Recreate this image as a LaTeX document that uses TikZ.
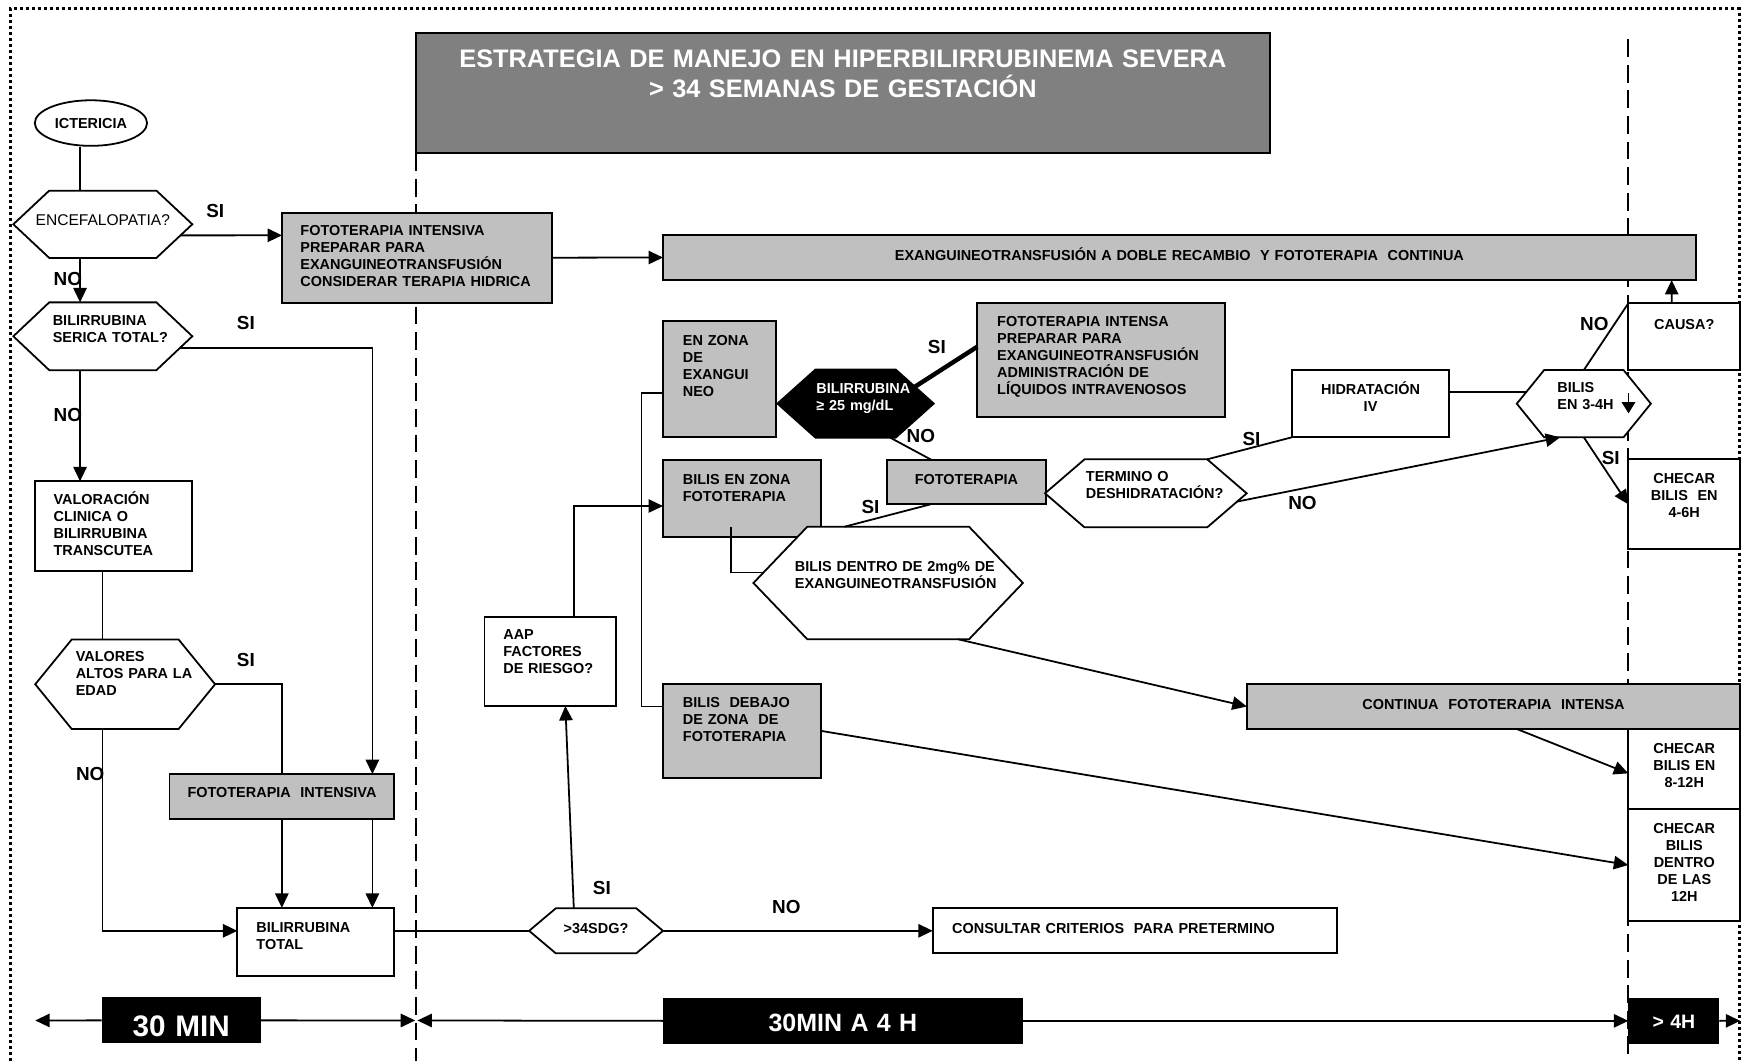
\documentclass[tikz,border=0pt]{standalone}
\usepackage{fontspec}
\setmainfont{Liberation Sans}
\usetikzlibrary{arrows.meta,calc,shapes.geometric,shapes.symbols}
\definecolor{boxgray}{RGB}{192,192,192}
\definecolor{titlegray}{RGB}{128,128,128}
\hyphenpenalty=10000
\exhyphenpenalty=10000
\begin{document}
\begin{tikzpicture}[x=1pt,y=-1pt,>={Triangle[length=13pt,width=12pt]},line width=1.6pt,
box/.style={draw,fill=white,anchor=north west,inner ysep=0pt,outer sep=0pt,align=left,font=\bfseries\fontsize{13}{15.3}\selectfont},
gbox/.style={box,fill=boxgray},
cbox/.style={box,align=center,inner xsep=0pt},
hexa/.style={draw,fill=white,shape=signal,signal to=west and east,inner sep=0pt,outer sep=0pt,align=left,font=\bfseries\fontsize{13}{15.3}\selectfont},
lbl/.style={inner sep=0pt,font=\bfseries\fontsize{17}{17}\selectfont},
tbar/.style={fill=black,text=white,anchor=north west,inner sep=0pt,outer sep=0pt,align=center},
divider/.style={dash pattern=on 16pt off 7pt,line width=1.8pt}]
\useasboundingbox (0,0) rectangle (1568,954);
\draw[line width=2.7pt,dash pattern=on 2.7pt off 2.7pt] (9,960)--(9,8)--(1564.7,8)--(1564.7,960);
\draw[divider] (374.3,137.9)--(374.3,960);
\draw[divider] (1464.8,35.4)--(1464.8,960);
\coordinate (spineA) at (72,0);
\coordinate (spineB) at (92.3,0);
\coordinate (colB) at (335,0);
\coordinate (t0) at (31.7,918);
\coordinate (t1) at (373.5,918);
\coordinate (t2) at (375.5,918);
\coordinate (t3) at (1565.5,918.3);

\node[box,fill=titlegray,text=white,align=center,inner xsep=0pt,text width=767.9pt,text height=30.7pt,text depth=77.2pt,font=\bfseries\fontsize{22.8}{27}\selectfont] (title) at (374.3,30) {ESTRATEGIA DE MANEJO EN HIPERBILIRRUBINEMA SEVERA\\> 34 SEMANAS DE GESTACIÓN};

\node[draw,ellipse,minimum width=101pt,minimum height=41pt,inner sep=0pt,font=\bfseries\fontsize{13}{15.3}\selectfont] (icter) at (81.8,110.7) {ICTERICIA};
\node[hexa,minimum width=161pt,minimum height=60.5pt,signal pointer angle=86.3,align=center,inner xsep=-14pt,font=\fontsize{14}{16}\selectfont,text height=10pt,text depth=7.5pt] (encef) at (92.5,201.75) {ENCEFALOPATIA?};
\node[hexa,minimum width=161pt,minimum height=61pt,signal pointer angle=86.7,text width=90pt,text height=12pt,text depth=31.2pt] (serica) at (92.5,302.5) {BILIRRUBINA\\SERICA~TOTAL?};
\node[box,inner xsep=16.5pt,text width=108.3pt,text height=21.05pt,text depth=59.95pt] (valoracion) at (31.7,433) {VALORACIÓN\\CLINICA O\\BILIRRUBINA\\TRANSCUTEA};
\node[hexa,minimum width=161.8pt,minimum height=80.5pt,signal pointer angle=101.6,text width=88.8pt,text height=12pt,text depth=52.2pt] (valores) at (112.6,615.55) {VALORES\\ALTOS~PARA~LA\\EDAD};
\node[gbox,inner xsep=16.2pt,text width=169.7pt,text height=20.75pt,text depth=19.45pt] (fotoInt2) at (152.5,696.4) {FOTOTERAPIA~~INTENSIVA};
\node[box,inner xsep=17.2pt,text width=106.7pt,text height=21.75pt,text depth=39.45pt] (bTotal) at (213.5,816.7) {BILIRRUBINA\\TOTAL};
\node[gbox,inner xsep=16.6pt,text width=209.6pt,text height=20.85pt,text depth=60.15pt] (fotoInt1) at (253.7,191.3) {FOTOTERAPIA INTENSIVA\\PREPARAR PARA\\EXANGUINEOTRANSFUSIÓN\\CONSIDERAR~TERAPIA~HIDRICA};

\node[box,inner xsep=17pt,text width=84.2pt,text height=20.45pt,text depth=59.85pt] (aap) at (435.8,554.8) {AAP\\FACTORES\\DE~RIESGO?};
\node[hexa,minimum width=120.4pt,minimum height=40.5pt,signal pointer angle=80.3,align=center,text height=10pt,text depth=5.5pt] (sdg) at (536.2,837.35) {>34SDG?};
\node[box,inner xsep=17.5pt,text width=328.5pt,text height=22.65pt,text depth=17.85pt] (consultar) at (839.1,817.1) {CONSULTAR CRITERIOS~~PARA PRETERMINO};
\node[gbox,align=center,inner xsep=0pt,text width=929.2pt,text height=22.65pt,text depth=17.85pt] (exan) at (596.4,211.4) {EXANGUINEOTRANSFUSIÓN A DOBLE RECAMBIO~~Y FOTOTERAPIA~~CONTINUA};
\node[gbox,inner xsep=17.9pt,text width=66.1pt,text height=21.75pt,text depth=82.85pt] (enZona) at (596.4,288.8) {EN ZONA\\DE\\EXANGUI\\NEO};
\node[gbox,inner xsep=17.9pt,text width=106.4pt,text height=22.05pt,text depth=47.55pt] (bZona) at (596.4,413.8) {BILIS EN ZONA\\FOTOTERAPIA};
\node[gbox,inner xsep=18pt,text width=106pt,text height=21.45pt,text depth=62.85pt] (bDebajo) at (596.4,615.3) {BILIS~~DEBAJO\\DE~ZONA~~DE\\FOTOTERAPIA};
\node[hexa,fill=black,text=white,minimum width=140.6pt,minimum height=61.4pt,signal pointer angle=83.7,text width=70.6pt,text height=12pt,text depth=30.7pt] (bili25) at (769.7,363.05) {BILIRRUBINA\\≥~25~mg/dL};
\node[gbox,inner xsep=17.9pt,text width=186.9pt,text height=21.75pt,text depth=81.35pt] (fotoIntensa) at (879.2,272.3) {FOTOTERAPIA INTENSA\\PREPARAR PARA\\EXANGUINEOTRANSFUSIÓN\\ADMINISTRACIÓN DE\\LÍQUIDOS~INTRAVENOSOS};
\node[gbox,align=center,inner xsep=0pt,text width=142.5pt,text height=22.05pt,text depth=17.55pt] (foto) at (798.2,413.8) {FOTOTERAPIA};
\node[hexa,minimum width=242.4pt,minimum height=101.3pt,signal pointer angle=92.5,inner xsep=-11.5pt,text width=167.8pt,text height=12pt,text depth=33.3pt] (dentro) at (799,524.45) {BILIS~DENTRO~DE~2mg\%~DE\\EXANGUINEOTRANSFUSIÓN};
\node[hexa,minimum width=181.4pt,minimum height=61.2pt,signal pointer angle=81.5,text width=107.8pt,text height=12pt,text depth=32.7pt] (termino) at (1030.8,443.8) {TERMINO~O\\DESHIDRATACIÓN?};

\node[cbox,text width=141.7pt,text height=21.75pt,text depth=38.75pt] (hidra) at (1162.1,332.9) {HIDRATACIÓN\\IV};
\node[hexa,minimum width=120.6pt,minimum height=60.5pt,signal pointer angle=101.8,text width=47.6pt,text height=12pt,text depth=31.5pt] (bilis34) at (1424.8,363.15) {BILIS\\EN~3-4H};
\node[cbox,text width=100.7pt,text height=23.55pt,text depth=36.45pt] (causa) at (1464.8,272.9) {CAUSA?};
\node[cbox,text width=100.7pt,text height=21.75pt,text depth=59.25pt] (checar46) at (1464.8,413.2) {CHECAR\\BILIS~~EN\\4-6H};
\node[gbox,align=center,inner xsep=0pt,text width=443.9pt,text height=22.65pt,text depth=17.85pt] (continua) at (1121.6,615.3) {CONTINUA~~FOTOTERAPIA~~INTENSA};
\node[cbox,text width=100.7pt,text height=22.05pt,text depth=49.95pt] (checar812) at (1464.8,655.8) {CHECAR\\BILIS EN\\8-12H};
\node[cbox,text width=100.7pt,text height=22.05pt,text depth=78.65pt] (checar12) at (1464.8,727.8) {CHECAR\\BILIS\\DENTRO\\DE LAS\\12H};

\node[tbar,text width=143pt,text height=35.1pt,text depth=6.3pt,font=\bfseries\fontsize{26.7}{30}\selectfont] (min30) at (91.5,897.2) {30 MIN};
\node[tbar,text width=323.7pt,text height=30.6pt,text depth=11.1pt,font=\bfseries\fontsize{22.5}{26}\selectfont] (mid) at (596.4,897.5) {30MIN A 4 H};
\node[tbar,text width=82pt,text height=27.85pt,text depth=13.85pt,font=\bfseries\fontsize{17.5}{20}\selectfont] (h4) at (1464.8,897.5) {> 4H};

\draw (icter.south -| spineA)--(encef.north -| spineA);
\draw[->] (encef.south -| spineA)--(serica.north -| spineA);
\draw[->] ($(encef.east)+(-10.6,10)$)--($(fotoInt1.west)+(0,-20.1)$);
\draw[->] (fotoInt1.east)--(exan.west);
\draw[->] ($(serica.east)+(-11.2,10.5)$) -| (fotoInt2.north -| colB);
\draw[->] (serica.south -| spineA)--(valoracion.north -| spineA);
\draw (valoracion.south -| spineB)--(valores.north -| spineB);
\draw (valores.east) -| (fotoInt2.north);
\draw[->] (valores.south -| spineB) |- (bTotal.west |- sdg.west);
\draw[->] (fotoInt2.south -| colB)--(bTotal.north -| colB);
\draw[->] (fotoInt2.south)--(bTotal.north -| fotoInt2.south);
\draw (bTotal.east |- sdg.west)--(sdg.west);
\draw[->] (sdg.east)--(consultar.west);
\draw[->] ($(sdg.north)+(-20,0)$)--($(aap.south)+(13.7,0)$);
\draw[->] ($(aap.north)+(21.4,0)$) |- ($(bZona.west)+(0,6.6)$);
\draw ($(enZona.west)+(0,12.2)$)--++(-19.4,0) |- ($(bDebajo.west)+(0,-21.8)$);
\draw[line width=4pt] ($(bili25.center)+(53.3,-15.1)$)--($(fotoIntensa.west)+(0,-12)$);
\draw ($(bili25.south)+(31.2,0)$)--($(foto.north)+(-31.3,0)$);
\draw ($(foto.south)+(-31.3,0)$)--($(dentro.north)+(-39.2,0)$);
\draw ($(bZona.south)+(-9.9,-9.6)$) |- ($(dentro.west)+(8.7,-9.5)$);
\draw[->] ($(dentro.south)+(63,0)$)--(continua.west);
\draw ($(termino.north)+(55.2,0)$)--(hidra.south west);
\draw[->] ($(termino.east)+(-9,7.5)$)--($(bilis34.south)+(-21.3,0)$);
\draw ($(hidra.east)+(0,-10.3)$)--($(bilis34.west)+(8.3,-10.3)$);
\draw[-{Triangle[length=10pt,width=12pt]}] ($(bilis34.center)+(40.2,-9.3)$)--($(bilis34.center)+(40.2,8.7)$);
\draw (bilis34.north)--(causa.north west);
\draw[<-] ($(exan.south)+(442.8,0)$)--($(causa.north)+(-11.3,0)$);
\draw[->] (bilis34.south)--(checar46.west);
\draw[->] ($(continua.south)+(21,0)$)--($(checar812.west)+(0,3.9)$);
\draw[->] (bDebajo.east)--(checar12.west);
\draw[->] (min30.west)--(t0);
\draw[->] (min30.east)--(t1);
\draw[->] (mid.west)--(t2);
\draw[->] (mid.east)--(h4.west);
\draw[->] (h4.east)--(t3);

\node[lbl] (siEnc) at (193.7,189.8) {SI};
\node[lbl] (noEnc) at (61.1,251.3) {NO};
\node[lbl] (siSer) at (221.2,290.3) {SI};
\node[lbl] (noSer) at (61.1,373.3) {NO};
\node[lbl] (siVal) at (221.2,594) {SI};
\node[lbl] (noVal) at (81.2,696) {NO};
\node[lbl] (siSdg) at (541.4,799.1) {SI};
\node[lbl] (noSdg) at (707.4,815.6) {NO};
\node[lbl] (siB25) at (842.8,311.9) {SI};
\node[lbl] (noB25) at (828.4,392.2) {NO};
\node[lbl] (siFoto) at (783.1,455.8) {SI};
\node[lbl] (siTerm) at (1125.8,395.2) {SI};
\node[lbl] (noTerm) at (1171.7,452.2) {NO};
\node[lbl] (noB34) at (1434.3,291.8) {NO};
\node[lbl] (siB34) at (1449,411.7) {SI};
\end{tikzpicture}
\end{document}
